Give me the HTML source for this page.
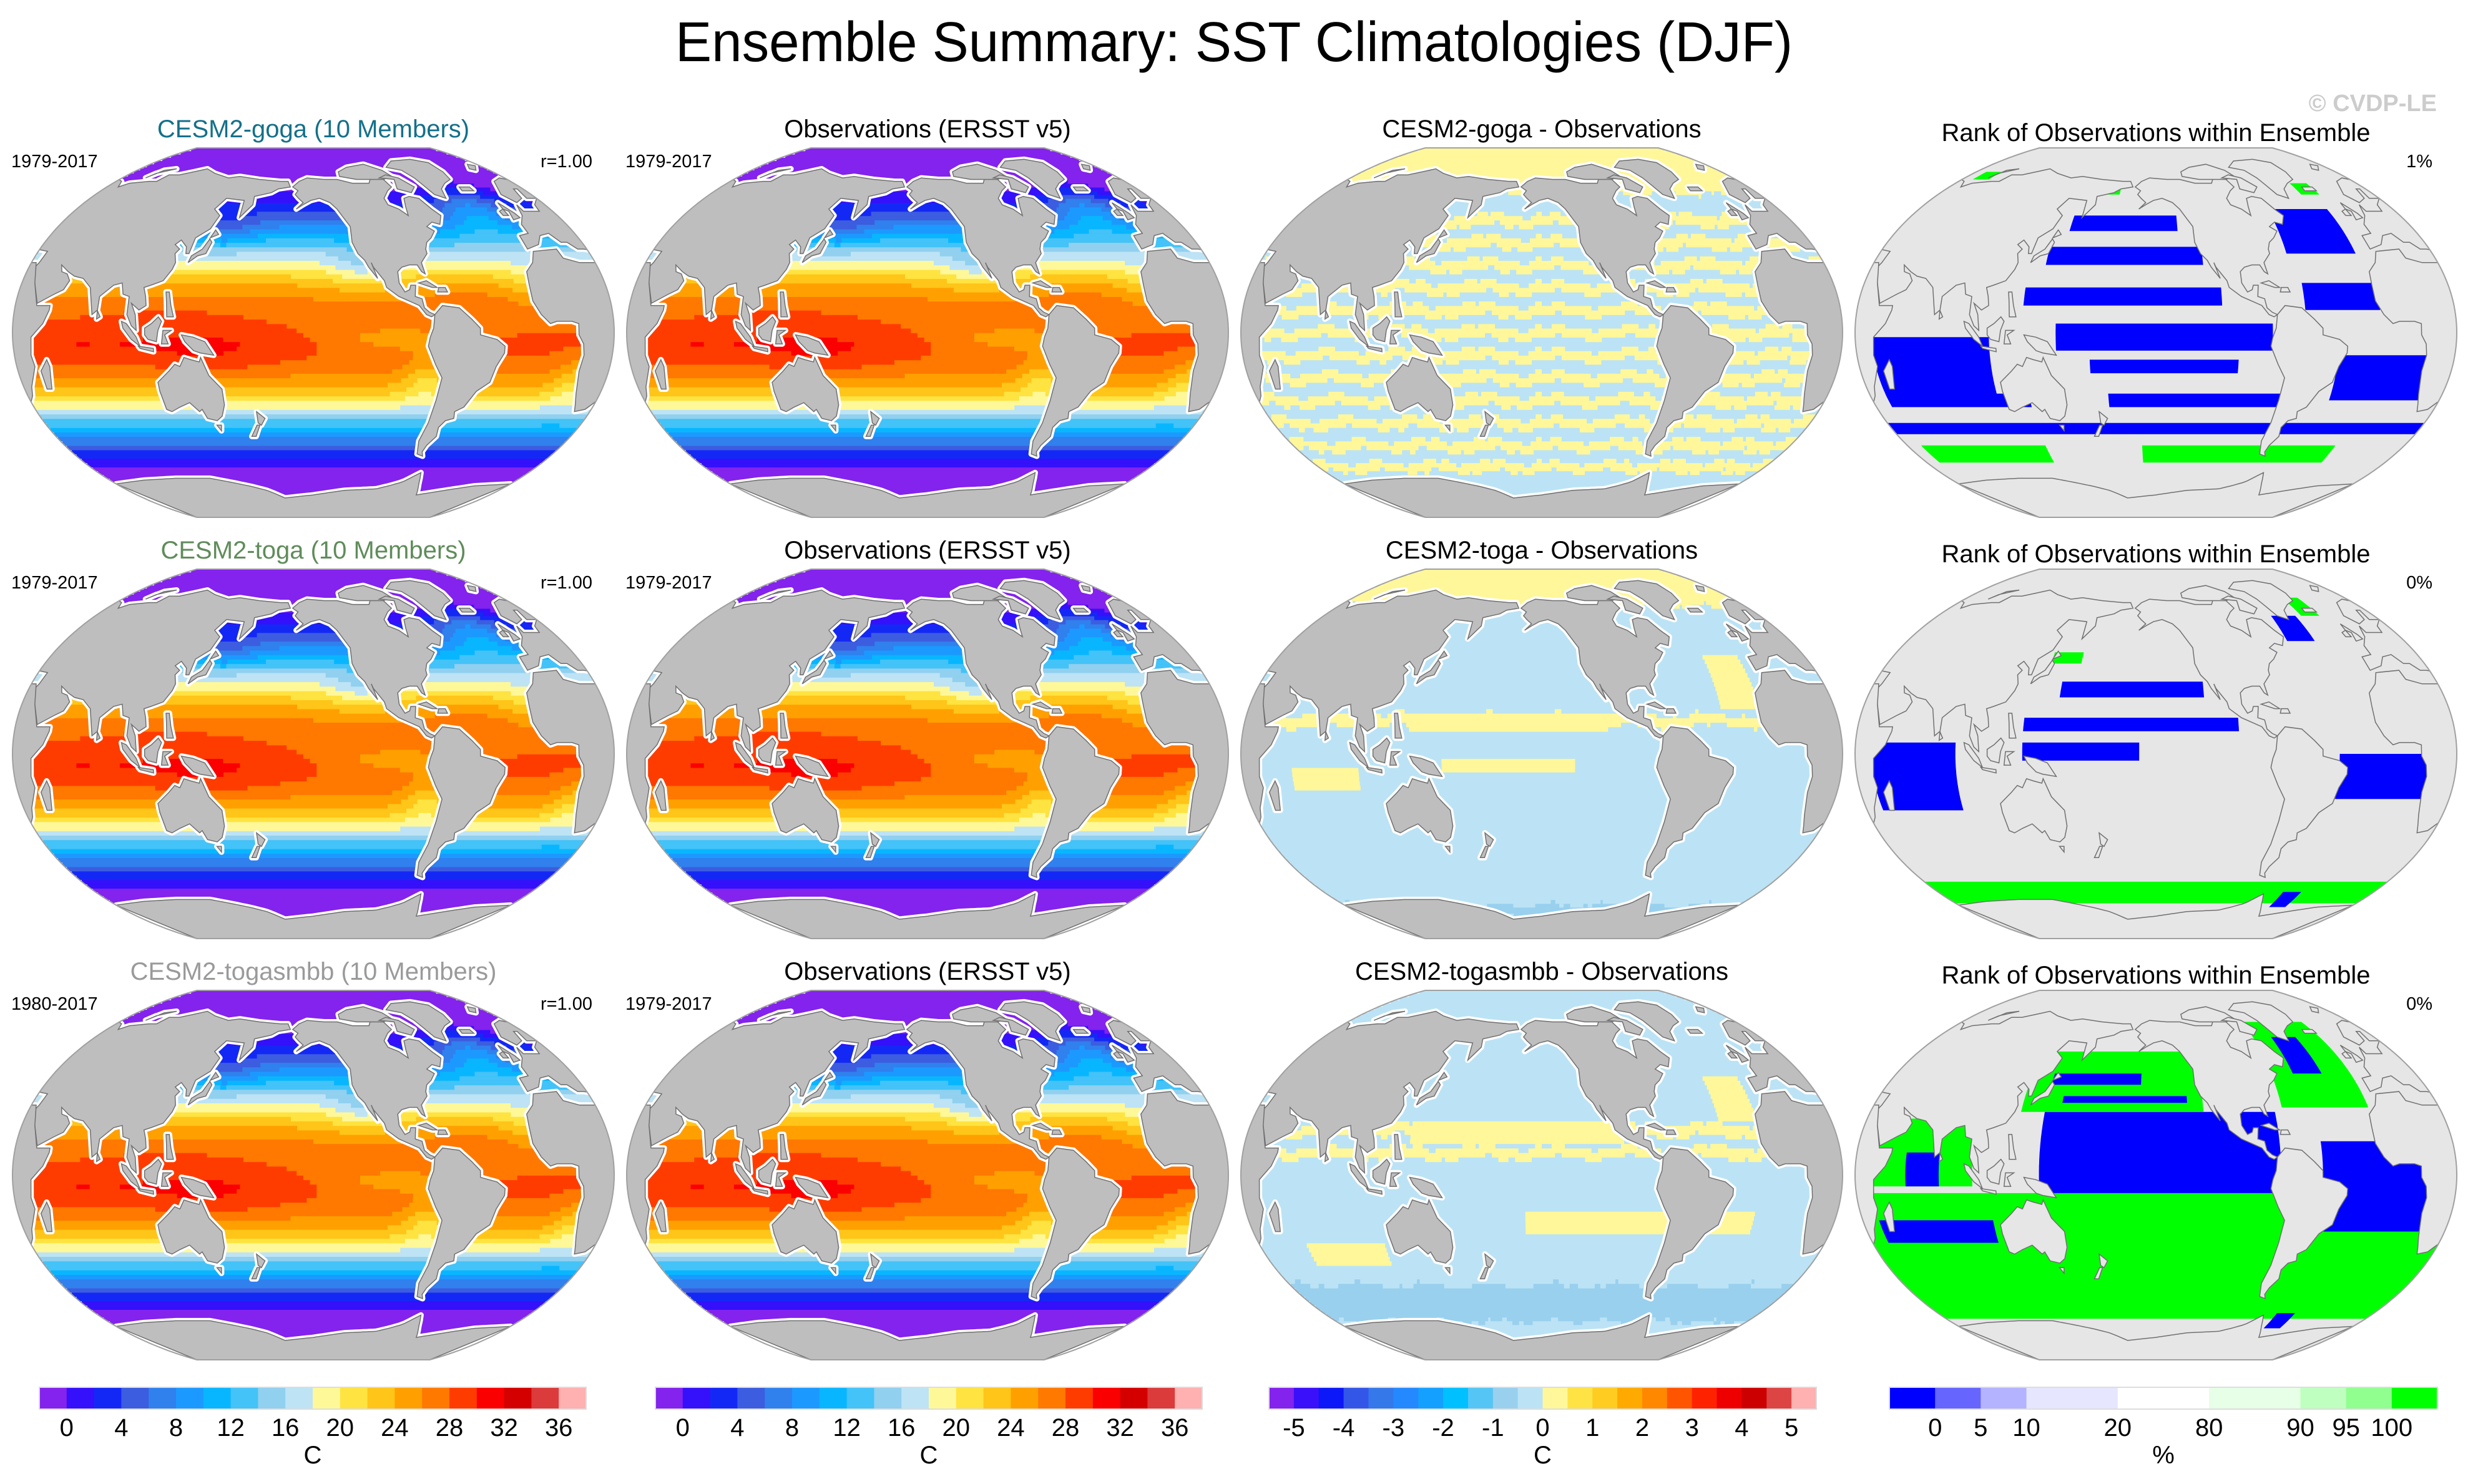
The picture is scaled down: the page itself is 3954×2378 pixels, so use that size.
<!DOCTYPE html>
<html><head><meta charset="utf-8">
<style>
html,body{margin:0;padding:0;background:#fff;}
svg{display:block;font-family:"Liberation Sans",Arial,sans-serif;}
</style></head>
<body>
<svg id="fig" xmlns="http://www.w3.org/2000/svg" width="3954" height="2378" viewBox="0 0 3954 2378">
<rect x="0" y="0" width="3954" height="2378" fill="#fff"/>
<text x="1977" y="98" font-size="90" text-anchor="middle" textLength="1790" lengthAdjust="spacingAndGlyphs">Ensemble Summary: SST Climatologies (DJF)</text>
<text x="3904" y="178" font-size="38" font-weight="bold" fill="#cccccc" text-anchor="end">© CVDP-LE</text>
<g id="panels"></g>
<g id="bars"></g>
</svg>
<script>
// ---------- data arrays ----------
const sstLat = [-90,-75,-65,-60,-55,-50,-45,-40,-35,-30,-25,-20,-15,-10,-5,0,5,10,15,20,25,30,35,40,45,50,55,60,65,70,90];
const sstZonal = [-1.8,-1.6,-1.2,0.2,2.5,5.5,9,13,17,20.5,23.5,25.5,27,28,28.5,28,27.5,27,26,24.5,22,19,16.5,13,9.5,6,3.5,1.5,-0.5,-1.5,-1.8];
const anomLon = [120,150,260,280,240,10,345,330,150,60,300];
const anomLat = [0,-10,-3,-20,28,-22,22,55,45,-8,15];
const anomAmp = [1.5,1.2,-3.2,-3.5,-3,-3,-2,5.5,-3,1,1];
const anomWLon = [60,40,40,15,20,12,15,25,20,30,25];
const anomWLat = [15,10,6,12,10,12,10,12,8,10,10];

const diffLat = [-90,-70,-65,-60,-55,-50,-45,-40,-35,-30,-25,-20,-15,-10,-5,0,5,10,15,20,25,30,35,40,45,50,55,60,65,70,75,90];
const diffRow1 = [-0.2,-0.2,-0.2,0.2,-0.2,0.2,-0.2,0.2,-0.2,0.2,-0.2,0.2,-0.2,0.2,-0.2,0.2,-0.2,0.2,-0.2,0.2,-0.2,0.2,-0.2,0.2,-0.2,0.2,-0.2,-0.2,0.2,0.2,0.2,0.2];
const diffRow2 = [-0.2,-0.6,-0.2,-0.2,-0.2,-0.2,-0.2,-0.2,-0.2,-0.2,-0.2,-0.2,-0.2,-0.2,-0.2,-0.2,-0.2,-0.2,0.2,-0.2,-0.2,-0.2,-0.2,-0.2,-0.2,-0.2,-0.2,-0.2,-0.2,0.2,0.2,0.2];
const diffRow3 = [-0.2,-0.2,-0.6,-0.6,-0.6,-0.6,-0.2,-0.2,-0.2,-0.2,-0.2,-0.2,-0.2,-0.2,-0.2,-0.2,-0.2,0.2,-0.2,0.2,-0.2,-0.2,-0.2,-0.2,-0.2,-0.2,-0.2,-0.2,-0.2,-0.2,-0.2,-0.2];
const diffPatches2 = [[130,250,10,18,0.2],[150,230,-8,-2,0.2],[320,345,20,45,0.2],[60,100,-15,-5,0.2]];
const diffPatches3 = [[200,340,-25,-15,0.2],[60,110,-40,-30,0.2],[130,260,15,25,0.2],[320,345,25,45,0.2]];

// rank patches: [lon0, lon1, lat0, lat1, category] 0=blue(0-5%) 8=green(95-100%)
const rankRow1 = [[150,225,45,52,0],[140,240,30,38,0],[295,340,35,55,0],[130,250,12,20,0],[300,345,10,22,0],[150,280,-8,4,0],[40,110,-30,-2,0],[170,260,-18,-12,0],[320,385,-30,-10,0],[40,130,-33,-27,0],[180,290,-33,-27,0],[30,390,-45,-40,0],[40,130,-58,-50,8],[200,340,-58,-50,8],[165,180,62,68,8],[330,345,62,68,8],[40,55,70,75,8]];
const rankRow2 = [[150,240,25,32,0],[130,260,10,16,0],[130,200,-3,5,0],[40,90,-25,5,0],[320,390,-20,0,0],[305,325,50,62,0],[330,345,62,72,8],[30,390,-68,-57,8],[315,330,-70,-62,0],[140,160,40,45,8]];
const rankRow3 = [[30,390,-65,-8,8],[140,285,-8,28,0],[125,240,28,55,8],[140,200,40,45,0],[150,230,32,35,0],[290,345,30,70,8],[305,325,45,62,0],[310,385,-25,15,0],[40,100,-5,25,8],[60,80,-5,10,0],[40,110,-30,-20,0],[310,325,-70,-62,0]];

// ---------- colormaps ----------
const sstColors = ['#8422ee','#3510fa','#1428f5','#3c5ddf','#3080ee','#1c99ff','#08b6ff','#43c3f8','#91d0ef','#bde3f5','#fff899','#ffe340','#ffc518','#ffa000','#ff7800','#ff3c00','#fa0000','#d40000','#db3b3b','#ffb0b0'];
const diffColors = ['#8422ee','#3a10fa','#0c18f8','#3456e8','#3478ea','#2488ff','#14a0ff','#00c0ff','#55c5f5','#99d0ee','#bbe3f5','#fff799','#ffe344','#ffcc22','#ffaa00','#ff8800','#ff5500','#ff2200','#ee0000','#cc0000','#dd4444','#ffb0b0'];
const rankColors = ['#0000ff','#6666ff','#b3b3ff','#e6e6ff','#ffffff','#e6ffe6','#bfffbf','#90ff90','#00ff00'];
const rankBounds = [0,5,10,20,80,90,95,100];
const sstTicks = ['0','4','8','12','16','20','24','28','32','36'];
const diffTicks = ['-5','-4','-3','-2','-1','0','1','2','3','4','5'];

const LAND = [
[[-9,43],[-9,37],[0,39],[5,43],[12,44],[16,40],[20,40],[24,37],[28,37],[36,36],[35,31],[33,28],[38,22],[43,13],[52,17],[57,19],[59,23],[56,26],[52,27],[50,30],[56,27],[61,25],[67,24],[73,20],[77,8],[80,10],[80,16],[87,21],[92,22],[94,17],[98,16],[98,8],[101,3],[104,1],[103,8],[100,13],[105,10],[109,12],[108,16],[106,20],[110,21],[117,23],[121,28],[122,31],[120,35],[122,37],[118,39],[121,41],[126,38],[127,35],[129,35],[130,42],[138,46],[141,52],[135,55],[140,60],[155,59],[156,51],[163,57],[162,61],[175,63],[180,65],[190,66],[187,69],[180,69],[160,70],[140,72],[130,71],[113,74],[100,77],[90,75],[80,73],[70,73],[67,69],[60,69],[45,68],[40,66],[35,69],[25,71],[15,69],[5,62],[10,58],[18,60],[22,65],[25,65],[22,60],[30,60],[22,57],[20,54],[14,54],[8,54],[8,57],[4,52],[-2,48],[-2,44],[-9,43]],
[[-17,21],[-16,27],[-10,31],[-6,36],[10,37],[11,33],[20,31],[30,31],[33,31],[35,28],[38,22],[43,12],[51,12],[51,10],[48,4],[41,-2],[40,-10],[41,-15],[35,-24],[33,-28],[26,-34],[20,-35],[18,-32],[15,-27],[12,-17],[13,-10],[12,-5],[9,-1],[9,4],[5,5],[-4,5],[-8,4],[-13,8],[-17,14],[-17,21]],
[[44,-25],[47,-25],[50,-15],[49,-12],[44,-17]],
[[-168,66],[-163,69],[-156,71],[-140,70],[-128,70],[-115,68],[-100,68],[-95,72],[-85,70],[-82,66],[-87,64],[-93,60],[-92,57],[-85,55],[-80,52],[-79,56],[-77,60],[-72,61],[-65,60],[-60,55],[-56,52],[-60,48],[-65,49],[-70,47],[-66,45],[-70,42],[-74,40],[-76,37],[-76,35],[-81,31],[-80,26],[-82,27],[-84,30],[-89,30],[-94,29],[-97,27],[-97,22],[-94,18],[-91,19],[-90,21],[-87,21],[-88,16],[-84,15],[-83,11],[-80,9],[-77,8],[-79,7],[-82,8],[-86,12],[-92,14],[-98,16],[-105,20],[-106,23],[-112,29],[-113,31],[-110,24],[-115,29],[-117,32],[-121,35],[-124,40],[-124,47],[-127,50],[-132,55],[-137,58],[-145,60],[-152,59],[-158,57],[-163,55],[-158,58],[-162,60],[-165,62],[-163,64],[-168,66]],
[[-73,78],[-60,82],[-35,83],[-20,81],[-20,75],[-23,70],[-32,68],[-40,65],[-43,60],[-50,62],[-53,67],[-55,71],[-60,76],[-73,78]],
[[-125,72],[-110,70],[-85,70],[-75,72],[-80,76],[-95,80],[-115,78],[-125,75]],
[[-62,66],[-68,63],[-78,65],[-75,70],[-88,71],[-80,73],[-70,71]],
[[-77,8],[-72,12],[-62,11],[-55,6],[-50,2],[-50,-1],[-40,-3],[-35,-6],[-35,-9],[-39,-15],[-41,-22],[-48,-26],[-53,-33],[-58,-35],[-57,-38],[-62,-39],[-65,-42],[-64,-46],[-68,-50],[-69,-53],[-67,-55],[-72,-54],[-75,-48],[-73,-40],[-72,-30],[-71,-20],[-76,-14],[-81,-6],[-80,-2],[-78,2],[-77,8]],
[[114,-22],[114,-26],[115,-34],[118,-35],[124,-33],[131,-31],[136,-35],[138,-34],[140,-38],[146,-39],[150,-37],[153,-32],[153,-25],[146,-19],[142,-11],[141,-13],[136,-12],[132,-11],[129,-15],[126,-14],[122,-17],[114,-22]],
[[145,-41],[148,-41],[147,-43.5]],
[[173,-35],[178,-38],[175,-41],[173,-40]],[[172,-41],[174,-41],[170,-46],[167,-46]],
[[131,-1],[138,-2],[145,-4],[150,-10],[142,-9],[138,-8],[133,-4]],
[[109,2],[113,4],[117,7],[119,5],[117,1],[116,-4],[111,-3],[109,-1]],
[[95,5],[98,4],[104,-2],[106,-6],[101,-3],[96,2]],
[[105,-6],[114,-7],[114,-8.5],[106,-7]],
[[119,-5],[120,1],[125,1],[121,-1],[123,-5]],
[[120,18],[122,18],[124,12],[126,7],[122,7],[121,14]],
[[130,31],[135,34],[140,35],[142,40],[140,41.5],[137,37],[131,34]],
[[140,42],[145,43.5],[142,45.5]],
[[-5,50],[1,51],[0,53],[-3,56],[-5,58],[-6,55],[-3,54]],
[[-10,52],[-6,52],[-6,55],[-10,54]],
[[-24,64],[-14,64],[-14,66],[-23,66]],
[[80,6],[82,7],[80,9.8]],
[[52,71],[58,76],[68,77],[55,74]],[[12,77],[20,80],[25,79],[16,76]],
[[-85,22],[-77,20],[-74,20],[-80,23]],[[-74,18],[-68,18],[-69,20],[-73,20]]
];
const antLon = [-180,-150,-120,-90,-70,-60,-55,-45,-30,0,30,60,90,120,150,165,180];
const antLat = [-78,-76,-73,-72,-68,-63,-68,-76,-74,-70,-69,-67,-66,-66,-70,-73,-78];

// ---------- layout ----------
const NS = 'http://www.w3.org/2000/svg';
const colCx = [502,1486,2470,3454];
const rowCy = [533,1208,1883];
const RX = 482, RY = 296, LON0 = 210;
const ROBY = [0,.1222,.2445,.3667,.4889,.6106,.7271,.8293,.9115,1.0];

function interp(xs, ys, x){
  if (x <= xs[0]) return ys[0];
  for (let i=1;i<xs.length;i++){ if (x <= xs[i]){ const t=(x-xs[i-1])/(xs[i]-xs[i-1]); return ys[i-1]+t*(ys[i]-ys[i-1]); } }
  return ys[ys.length-1];
}
function ynOf(lat){ const a=Math.min(90,Math.abs(lat)); const i=Math.min(8,Math.floor(a/10)); const t=(a-i*10)/10; const v=ROBY[i]+t*(ROBY[i+1]-ROBY[i]); return lat<0?-v:v; }
function xfOf(yn){ return Math.sqrt(1-0.85*yn*yn); }
function X(cx, rel, lat){ return cx + RX*xfOf(ynOf(lat))*rel/180; }
function Y(cy, lat){ return cy - RY*ynOf(lat); }
function wrapRel(lon){ return ((lon-LON0)%360+540)%360-180; }
function lonOfRel(rel){ return ((rel+LON0)%360+360)%360; }
function dlon(a,b){ return ((a-b)%360+540)%360-180; }

function sstAt(lon, lat){
  let t = interp(sstLat, sstZonal, lat);
  for (let i=0;i<anomLon.length;i++){
    const a=dlon(lon,anomLon[i])/anomWLon[i], b=(lat-anomLat[i])/anomWLat[i];
    t += anomAmp[i]*Math.exp(-a*a-b*b);
  }
  return t;
}
function sstIdx(t){ return t<0?0:Math.min(19,Math.floor(t/2)+1); }
function diffIdx(v){ return Math.max(0,Math.min(21,Math.floor((v+5)/0.5)+1)); }
function diffAt(row, lon, lat){
  const prof=[diffRow1,diffRow2,diffRow3][row];
  const latE = lat + 1.2*Math.sin(lon*Math.PI/23) + 0.8*Math.sin(lon*Math.PI/7);
  let v = interp(diffLat, prof, latE);
  const patches = row===1?diffPatches2:(row===2?diffPatches3:[]);
  for (const p of patches){ const L=((lon%360)+360)%360; if (L>=p[0]&&L<p[1]&&lat>=p[2]&&lat<p[3]) v=p[4]; }
  if (Math.abs(v)<0.35) v = v<0?-0.2:0.2;
  return v;
}

function outlinePath(cx, cy){
  let d='';
  for (let lat=90;lat>=-90;lat-=2){ d += (lat===90?'M':'L')+X(cx,180,lat).toFixed(1)+','+Y(cy,lat).toFixed(1); }
  for (let lat=-90;lat<=90;lat+=2){ d += 'L'+X(cx,-180,lat).toFixed(1)+','+Y(cy,lat).toFixed(1); }
  return d+'Z';
}
function landPaths(cx, cy){
  const out=[];
  for (const poly of LAND){
    const rels=[]; let prev=null;
    for (const [lo,la] of poly){
      let r = prev===null ? wrapRel(lo) : prev + dlon(lo, lonOfRel(prev));
      rels.push([r,la]); prev=r;
    }
    for (const sh of [-360,0,360]){
      let d='';
      rels.forEach(([r,la],i)=>{ d+=(i?'L':'M')+X(cx,r+sh,la).toFixed(1)+','+Y(cy,la).toFixed(1); });
      out.push(d+'Z');
    }
  }
  let d='';
  for (let rel=-180;rel<=180;rel+=3){ const la=interp(antLon,antLat,dlon(lonOfRel(rel),0)); d+=(rel===-180?'M':'L')+X(cx,rel,la).toFixed(1)+','+Y(cy,la).toFixed(1); }
  d+='L'+X(cx,180,-90).toFixed(1)+','+Y(cy,-90).toFixed(1)+'L'+X(cx,-180,-90).toFixed(1)+','+Y(cy,-90).toFixed(1)+'Z';
  out.push(d);
  return out;
}

const panels = document.getElementById('panels');
const titles = [
 ['CESM2-goga (10 Members)','Observations (ERSST v5)','CESM2-goga - Observations','Rank of Observations within Ensemble'],
 ['CESM2-toga (10 Members)','Observations (ERSST v5)','CESM2-toga - Observations','Rank of Observations within Ensemble'],
 ['CESM2-togasmbb (10 Members)','Observations (ERSST v5)','CESM2-togasmbb - Observations','Rank of Observations within Ensemble']];
const titleColors = ['#14708a','#5f8c5a','#9a9a9a'];
const yearsModel = ['1979-2017','1979-2017','1980-2017'];
const rankPct = ['1%','0%','0%'];
const rankData = [rankRow1, rankRow2, rankRow3];

function mk(tag, attrs, parent){ const e=document.createElementNS(NS,tag); for (const k in attrs) e.setAttribute(k, attrs[k]); parent.appendChild(e); return e; }

for (let r=0;r<3;r++){
  for (let c=0;c<4;c++){
    const cx=colCx[c], cy=rowCy[r];
    const g=mk('g',{},panels);
    
    
    const clipId='clip'+r+c;
    const cp=mk('clipPath',{id:clipId},g);
    mk('path',{d:outlinePath(cx,cy)},cp);
    const inner=mk('g',{'clip-path':'url(#'+clipId+')'},g);
    
    
    const bg=mk('rect',{x:cx-RX-5,y:cy-RY-5,width:2*RX+10,height:2*RY+10,fill:c===3?'#e6e6e6':'#ffffff'},inner);
    
    
    if (c<3){
      for (let lat=-90;lat<90;lat+=2){
        const y0=Y(cy,lat+2), y1=Y(cy,lat), mid=lat+1;
        let runStart=-180, runCol=null;
        for (let rel=-180;rel<=180;rel+=2){
          let col=null;
          if (rel<180){
            const lon=lonOfRel(rel+1);
            col = c<2 ? sstColors[sstIdx(sstAt(lon,mid))] : diffColors[diffIdx(diffAt(r,lon,mid))];
          }
          if (col!==runCol){
            if (runCol!==null){
              const xa=X(cx,runStart,mid), xb=X(cx,rel,mid);
              const cell=mk('rect',{x:xa.toFixed(1),y:y0.toFixed(1),width:(xb-xa+0.8).toFixed(1),height:(y1-y0+0.8).toFixed(1),fill:runCol},inner);
              
              
            }
            runStart=rel; runCol=col;
          }
        }
      }
    } else {
      for (const p of rankData[r]){
        const rel0=wrapRel(p[0]); const span=p[1]-p[0];
        for (const sh of [-360,0,360]){
          let d='';
          const segs=[];
          for (let la=p[2];la<=p[3];la+=1) segs.push([rel0+span,la]);
          for (let la=p[3];la>=p[2];la-=1) segs.push([rel0,la]);
          segs.forEach(([rr,la],i)=>{ d+=(i?'L':'M')+X(cx,rr+sh,la).toFixed(1)+','+Y(cy,la).toFixed(1); });
          const pp=mk('path',{d:d+'Z',fill:rankColors[p[4]]},inner);
          
          
        }
      }
    }
    const lands=landPaths(cx,cy);
    if (c<3){
      for (const d of lands){ const m=mk('path',{d:d,fill:'#ffffff',stroke:'#ffffff','stroke-width':9,'stroke-linejoin':'round'},inner);
        
         }
    }
    for (const d of lands){ const l=mk('path',{d:d,fill:c===3?'#e6e6e6':'#bebebe',stroke:'#707070','stroke-width':1.5},inner);
      
       }
    const ol=mk('path',{d:outlinePath(cx,cy),fill:'none',stroke:'#a0a0a0','stroke-width':2},g);
    
    
    const ty = (c===3 ? 226 : 220) + (rowCy[r]-533);
    const t=mk('text',{x:cx,y:ty,'font-size':40,'text-anchor':'middle',fill:c===0?titleColors[r]:'#000'},g);
    t.textContent=titles[r][c];
    
    
    const sy=268+(rowCy[r]-533);
    if (c<2){
      const s=mk('text',{x:cx-484,y:sy,'font-size':29},g);
      s.textContent = c===0?yearsModel[r]:'1979-2017';
      
      
    }
    if (c===0 || c===3){
      const s=mk('text',{x:cx+(c===0?447:443),y:sy,'font-size':29,'text-anchor':'end'},g);
      s.textContent = c===0?'r=1.00':rankPct[r];
      
      
    }
  }
}

// ---------- colorbars ----------
const bars=document.getElementById('bars');
const BY=2223, BH=35;
function colorbar(x0, x1, colors, widths, labels, labelPos, unit, name){
  const g=mk('g',{},bars);
  
  
  const tot=widths.reduce((a,b)=>a+b,0);
  let x=x0; const edges=[x0];
  colors.forEach((col,i)=>{ const w=(x1-x0)*widths[i]/tot;
    const b=mk('rect',{x:x.toFixed(1),y:BY,width:(w+0.5).toFixed(1),height:BH,fill:col},g);
    
    
    x+=w; edges.push(x); });
  const fr=mk('rect',{x:x0,y:BY,width:x1-x0,height:BH,fill:'none',stroke:'#dddddd','stroke-width':2},g);
  
  
  labels.forEach((lb,i)=>{
    const t=mk('text',{x:edges[labelPos[i]].toFixed(1),y:2301,'font-size':40,'text-anchor':'middle'},g);
    t.textContent=lb;
    
    
  });
  const u=mk('text',{x:((x0+x1)/2).toFixed(1),y:2345,'font-size':40,'text-anchor':'middle'},g);
  u.textContent=unit;
  
  
}
const ones=n=>Array(n).fill(1);
const oddPos=n=>Array.from({length:n},(_, i)=>1+2*i);
colorbar(63,939,sstColors,ones(20),sstTicks,oddPos(10),'C','colorbar-sst-model');
colorbar(1050,1926,sstColors,ones(20),sstTicks,oddPos(10),'C','colorbar-sst-obs');
colorbar(2033,2910,diffColors,ones(22),diffTicks,oddPos(11),'C','colorbar-difference');
colorbar(3027,3905,rankColors,[1,1,1,2,2,2,1,1,1],rankBounds.map(String),[1,2,3,4,5,6,7,8],'%','colorbar-rank');
</script>
</body></html>
